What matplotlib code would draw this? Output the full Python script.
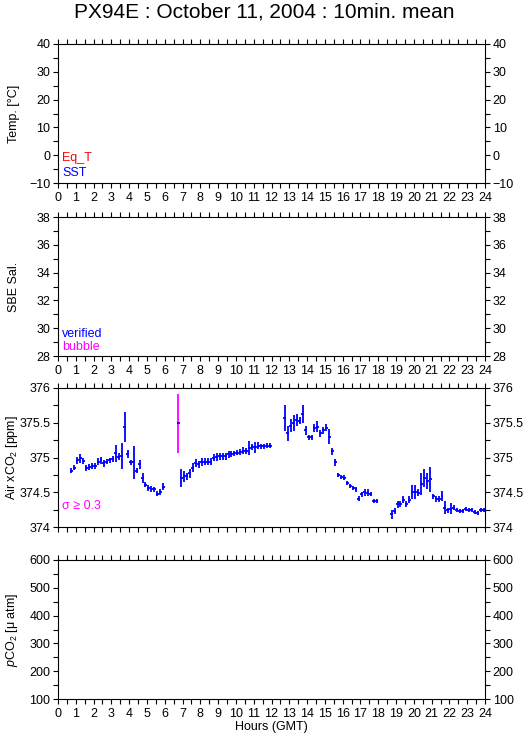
import numpy as np
import matplotlib
matplotlib.use("Agg")
import matplotlib.pyplot as plt
from matplotlib.ticker import MultipleLocator

plt.rcParams['font.family'] = ['Liberation Sans', 'DejaVu Sans']
plt.rcParams['mathtext.fontset'] = 'custom'
plt.rcParams['mathtext.rm'] = 'Liberation Sans'
plt.rcParams['mathtext.it'] = 'Liberation Sans:italic'

nan = np.nan

# 10 minute means of air xCO2 (ppm), 144 slots per day, nan = no data
xco2 = [nan, nan, nan, nan,
        374.81, 374.855, 374.96, 374.99, 374.95, 374.845, 374.86, 374.875,
        374.875, 374.94, 374.96, 374.92, 374.94, 374.96, 374.98, 375.06,
        375.01, 375.02, 375.44, 375.05, 374.93, 374.93, 374.81, 374.90,
        374.71, 374.61, 374.56, 374.55, 374.54, 374.48, 374.50, 374.58,
        nan, nan, nan, nan,
        375.49,
        374.71, 374.73, 374.73, 374.77, 374.85, 374.92, 374.90, 374.94,
        374.94, 374.94, 374.94, 375.00, 375.01, 375.02, 375.02, 375.02,
        375.05, 375.05, 375.06, 375.07, 375.08, 375.10, 375.09, 375.14,
        375.15, 375.15, 375.17, 375.16, 375.16, 375.17, 375.17,
        nan, nan, nan, nan,
        375.565, 375.35, 375.46, 375.49, 375.54, 375.53, 375.62, 375.39,
        375.29, 375.29, 375.42, 375.44, 375.35, 375.39, 375.43, 375.30,
        375.09, 374.93, 374.75, 374.72, 374.71, 374.63, 374.59, 374.56,
        374.54, 374.41, 374.47, 374.50, 374.49, 374.47, 374.38, 374.37,
        nan, nan, nan, nan,
        374.18, 374.23, 374.33, 374.33, 374.39, 374.33, 374.39, 374.51,
        374.51, 374.49, 374.62, 374.71, 374.66, 374.69, 374.44, 374.40,
        374.40, 374.45, 374.28, 374.24, 374.26, 374.28, 374.24, 374.23,
        374.23, 374.26, 374.24, 374.24, 374.22, 374.20, 374.24, 374.24]

# standard deviation of each mean
sigma = [nan, nan, nan, nan,
         0.04, 0.04, 0.05, 0.065, 0.04, 0.04, 0.04, 0.04,
         0.04, 0.05, 0.05, 0.05, 0.04, 0.04, 0.04, 0.12,
         0.05, 0.19, 0.21, 0.06, 0.04, 0.24, 0.04, 0.07,
         0.07, 0.04, 0.04, 0.04, 0.04, 0.04, 0.04, 0.05,
         nan, nan, nan, nan,
         0.42,
         0.13, 0.08, 0.05, 0.06, 0.065, 0.055, 0.05, 0.06,
         0.05, 0.05, 0.05, 0.05, 0.06, 0.05, 0.05, 0.05,
         0.05, 0.04, 0.04, 0.04, 0.04, 0.055, 0.04, 0.1,
         0.04, 0.08, 0.05, 0.04, 0.04, 0.04, 0.04,
         nan, nan, nan, nan,
         0.19, 0.11, 0.1, 0.115, 0.08, 0.05, 0.13, 0.07,
         0.04, 0.04, 0.06, 0.08, 0.05, 0.05, 0.05, 0.11,
         0.05, 0.05, 0.03, 0.03, 0.04, 0.03, 0.03, 0.03,
         0.03, 0.03, 0.04, 0.05, 0.05, 0.03, 0.03, 0.03,
         nan, nan, nan, nan,
         0.06, 0.04, 0.05, 0.04, 0.05, 0.04, 0.05, 0.1,
         0.1, 0.05, 0.16, 0.13, 0.11, 0.18, 0.04, 0.04,
         0.04, 0.07, 0.1, 0.04, 0.08, 0.03, 0.03, 0.03,
         0.03, 0.03, 0.03, 0.03, 0.03, 0.03, 0.03, 0.03]

xco2 = np.array(xco2)
sigma = np.array(sigma)
hours = (np.arange(len(xco2)) + 0.5) / 6.0   # centre of each 10 min slot

BLUE = '#0000ff'
MAGENTA = '#ff00ff'

fig = plt.figure(figsize=(5.29, 7.39), dpi=100)

W, H = 529.0, 739.0
left, width = 58 / W, 427 / W
panel_h = 139 / H
tops = [44, 217, 388, 560]

ylims = [(-10, 40), (28, 38), (374, 376), (100, 600)]
ymajor = [10, 2, 0.5, 100]
yminor = [5, 1, 0.25, 50]
ylabels = ['Temp. [°C]', 'SBE Sal.', 'Air xCO$_2$ [ppm]', '$p$CO$_2$ [μ atm]']

axes = []
for i in range(4):
    ax = fig.add_axes([left, 1 - (tops[i] + 139) / H, width, panel_h])
    ax.set_xlim(0, 24)
    ax.set_ylim(*ylims[i])
    ax.xaxis.set_major_locator(MultipleLocator(1))
    ax.xaxis.set_minor_locator(MultipleLocator(0.5))
    ax.yaxis.set_major_locator(MultipleLocator(ymajor[i]))
    ax.yaxis.set_minor_locator(MultipleLocator(yminor[i]))
    ax.tick_params(which='both', direction='out', length=3.5, width=0.8,
                   top=True, right=True, labelright=True, labelsize=9, pad=2)
    ax.tick_params(axis='x', which='both', pad=3)
    if ylims[i][0] == 374:
        ax.set_yticks([374, 374.5, 375, 375.5, 376])
        ax.set_yticklabels(['374', '374.5', '375', '375.5', '376'])
        ax.tick_params(axis='x', labelbottom=False)
    for s in ax.spines.values():
        s.set_linewidth(0.8)
    ax.set_ylabel(ylabels[i], fontsize=9)
    ax.yaxis.set_label_coords(-0.088, 0.5)
    axes.append(ax)

axes[3].set_xlabel('Hours (GMT)', fontsize=9, labelpad=1)

# legend-like labels inside the empty panels
axes[0].text(0.01, 0.16, 'Eq_T', color='red', fontsize=9, transform=axes[0].transAxes)
axes[0].text(0.01, 0.05, 'SST', color=BLUE, fontsize=9, transform=axes[0].transAxes)
axes[1].text(0.01, 0.14, 'verified', color=BLUE, fontsize=9, transform=axes[1].transAxes)
axes[1].text(0.01, 0.045, 'bubble', color=MAGENTA, fontsize=9, transform=axes[1].transAxes)
axes[2].text(0.01, 0.13, 'σ ≥ 0.3', color=MAGENTA, fontsize=9, transform=axes[2].transAxes)

# air xCO2 with error bars
ax = axes[2]
ok = sigma < 0.3
bad = sigma >= 0.3
for mask, col in [(ok, BLUE), (bad, MAGENTA)]:
    ax.errorbar(hours[mask], xco2[mask], yerr=sigma[mask], fmt='none',
                ecolor=col, elinewidth=1.3, capsize=0)
ax.errorbar(hours[ok | bad], xco2[ok | bad], xerr=1 / 12., fmt='none',
            ecolor=BLUE, elinewidth=1.3, capsize=0)

fig.text(0.5, 1 - 12 / H, 'PX94E : October 11, 2004 : 10min. mean',
         ha='center', va='center', fontsize=15)

fig.savefig('out.png', dpi=100)
